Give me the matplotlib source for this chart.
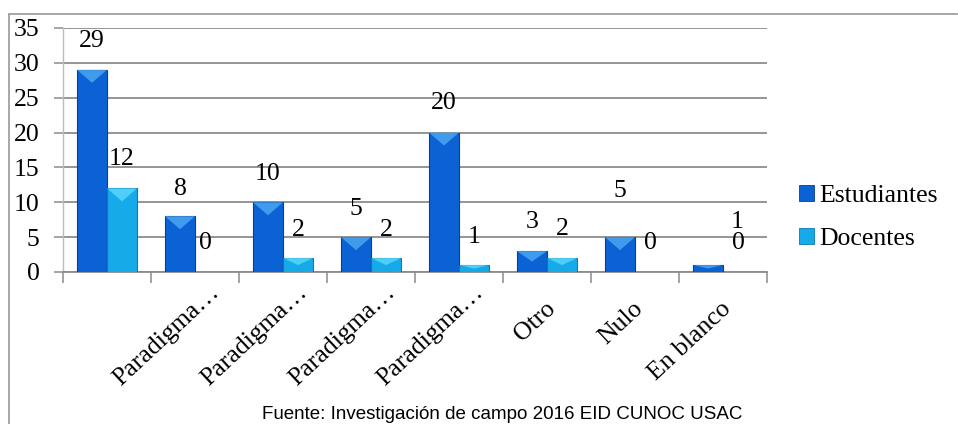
import matplotlib
matplotlib.use("Agg")
from matplotlib import pyplot as plt
from matplotlib.patches import Polygon, Patch
from matplotlib.lines import Line2D

categories = ["", "Paradigma…", "Paradigma…", "Paradigma…", "Paradigma…",
              "Otro", "Nulo", "En blanco"]
estudiantes = [29, 8, 10, 5, 20, 3, 5, 1]
docentes = [12, 0, 2, 2, 1, 2, 0, 0]
series_names = ["Estudiantes", "Docentes"]
yticks = [0, 5, 10, 15, 20, 25, 30, 35]
fuente = "Fuente: Investigación de campo 2016 EID CUNOC USAC"

# label offsets in pixels (dx, dy above bar top)
est_lbl_off = [(0, 29), (0, 27), (0, 28), (0, 28), (0, 30), (0, 29), (0, 46), (29, 43)]
doc_lbl_off = [(0, 29), (-5, 29), (0, 28), (0, 28), (0, 28), (0, 29), (0, 29), (0, 29)]

serif = "Liberation Serif"
fs = 18.5
col_e = ("#0b62d4", "#4aa6f2", "#0a3f92")   # face, bevel, edge
col_d = ("#17aae8", "#5ad6fa", "#0c78b2")

fig = plt.figure(figsize=(9.58, 4.24), dpi=100)
ax = fig.add_axes([63 / 958, 1 - 272 / 424, (767 - 63) / 958, (272 - 28) / 424])

w = 0.341
bevel = 1.86  # depth of light top triangle, data units (~13 px)


def draw_bar(x0, h, cols):
    if h <= 0:
        return
    ax.bar(x0, h, width=w, align="edge", color=cols[0], edgecolor=cols[2],
           linewidth=0.8, zorder=3)
    d = min(bevel, h * 0.5)
    ax.add_patch(Polygon([(x0, h), (x0 + w, h), (x0 + w / 2, h - d)],
                         closed=True, facecolor=cols[1], edgecolor="none",
                         alpha=0.85, zorder=4))


for i in range(len(categories)):
    draw_bar(i - w, estudiantes[i], col_e)
    draw_bar(i, docentes[i], col_d)
    dx, dy = est_lbl_off[i]
    ax.annotate(str(estudiantes[i]), xy=(i - w / 2, estudiantes[i]),
                xytext=(dx, dy), textcoords="offset pixels",
                ha="center", va="center", fontsize=fs, family=serif, zorder=5)
    dx, dy = doc_lbl_off[i]
    ax.annotate(str(docentes[i]), xy=(i + w / 2, docentes[i]),
                xytext=(dx, dy), textcoords="offset pixels",
                ha="center", va="center", fontsize=fs, family=serif, zorder=5)

ax.set_xlim(-0.5, len(categories) - 0.5)
ax.set_ylim(0, 35)
ax.set_yticks(yticks)
ax.set_yticklabels([str(v) for v in yticks], fontsize=fs, family=serif)
ax.set_xticks([i - 0.5 for i in range(len(categories) + 1)])
ax.set_xticklabels([])
ax.yaxis.grid(True, color="#8c8c8c", linewidth=1.3, zorder=0)
ax.set_axisbelow(True)
ax.tick_params(axis="y", length=6.5, width=1.1, color="#8c8c8c", pad=10.5)
ax.tick_params(axis="x", length=8, width=1.1, color="#8c8c8c", direction="out")
for s in ["top", "right"]:
    ax.spines[s].set_visible(False)
ax.spines["bottom"].set_color("#8c8c8c")
ax.spines["bottom"].set_linewidth(1.3)
ax.spines["left"].set_color("#bcbcbc")
ax.spines["left"].set_linewidth(1.0)

# rotated category labels
for i, lab in enumerate(categories):
    if not lab:
        continue
    if lab.startswith("Paradigma"):
        off = (25, -22)
    else:
        off = (9, -38)
    ax.annotate(lab, xy=(i, 0), xycoords=("data", "axes fraction"),
                xytext=off, textcoords="offset pixels", rotation=43,
                rotation_mode="anchor", ha="right", va="baseline",
                fontsize=fs, family=serif)

handles = [Patch(facecolor=col_e[0], edgecolor=col_e[2], linewidth=0.6),
           Patch(facecolor=col_d[0], edgecolor=col_d[2], linewidth=0.6)]
fig.legend(handles, series_names, loc="upper left",
           bbox_to_anchor=(799 / 958, 1 - 185 / 424), frameon=False,
           prop={"family": serif, "size": fs}, handlelength=0.6,
           handleheight=0.6, handletextpad=0.2, labelspacing=0.8,
           borderpad=0, borderaxespad=0)

# outer frame
fig.add_artist(Line2D([9 / 958, 957 / 958], [1 - 14 / 424, 1 - 14 / 424],
                      color="#a0a0a0", linewidth=1.3))
fig.add_artist(Line2D([9 / 958, 9 / 958], [1 - 14 / 424, 0],
                      color="#a0a0a0", linewidth=1.3))

fig.text(502 / 958, 1 / 424, fuente, ha="center", va="bottom",
         fontsize=13.5, family="Liberation Sans")

fig.savefig("out.png", dpi=100)
